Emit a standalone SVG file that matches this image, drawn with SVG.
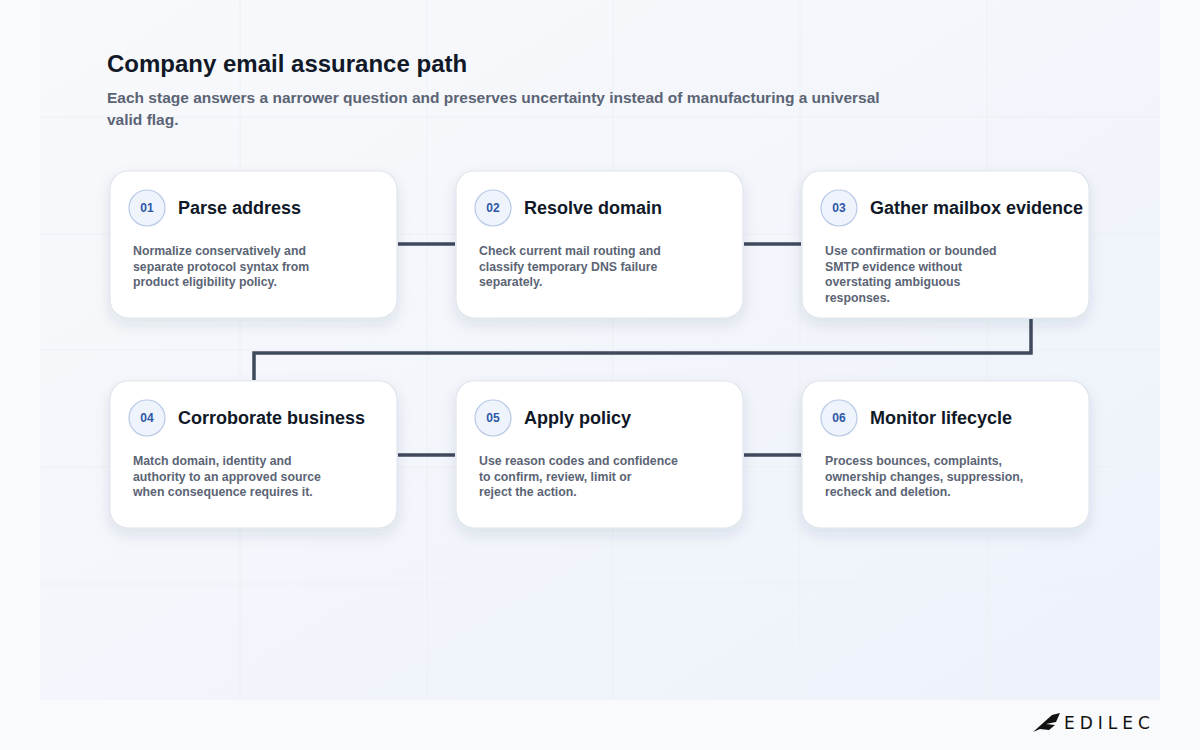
<svg xmlns="http://www.w3.org/2000/svg" width="1200" height="750" viewBox="0 0 1200 750">
<defs>
<linearGradient id="bg" x1="0" y1="0" x2="1" y2="1"><stop offset="0" stop-color="#f8f9fb"/><stop offset="1" stop-color="#edf2fb"/></linearGradient>
<filter id="sh" x="-20%" y="-20%" width="140%" height="150%"><feDropShadow dx="0" dy="6" stdDeviation="7" flood-color="#1e2a44" flood-opacity="0.10"/></filter>
<style>
.card{fill:#fff;stroke:#dfe4ec;stroke-width:1.2;filter:url(#sh)}
.num{fill:#eef3fc;stroke:#b9c9e6;stroke-width:1.2}
.nt{font-family:"Liberation Sans",Arial,sans-serif;font-size:12px;font-weight:bold;fill:#2e58a8;text-anchor:middle}
.tt{font-family:"Liberation Sans",Arial,sans-serif;font-size:18px;font-weight:bold;fill:#111827}
.bt{font-family:"Liberation Sans",Arial,sans-serif;font-size:12.3px;font-weight:bold;fill:#5b6474}
.ln{fill:none;stroke:#3f4a5c;stroke-width:3.5}
.grid{stroke:#edf0f4;stroke-width:1}
</style>
</defs>
<rect width="1200" height="750" fill="#f9fafb"/>
<rect x="40" y="0" width="1120" height="700" fill="url(#bg)"/>
<g class="grid">
<line x1="40" y1="117" x2="1160" y2="117"/><line x1="40" y1="234" x2="1160" y2="234"/><line x1="40" y1="350" x2="1160" y2="350"/><line x1="40" y1="467" x2="1160" y2="467"/><line x1="40" y1="584" x2="1160" y2="584"/>
<line x1="240" y1="0" x2="240" y2="700"/><line x1="427" y1="0" x2="427" y2="700"/><line x1="613" y1="0" x2="613" y2="700"/><line x1="800" y1="0" x2="800" y2="700"/><line x1="987" y1="0" x2="987" y2="700"/>
</g>
<text x="107" y="72" font-family="Liberation Sans,Arial,sans-serif" font-size="24" font-weight="bold" fill="#111827">Company email assurance path</text>
<text font-family="Liberation Sans,Arial,sans-serif" font-size="15.5" font-weight="bold" fill="#5b6474"><tspan x="107" y="103">Each stage answers a narrower question and preserves uncertainty instead of manufacturing a universal</tspan><tspan x="107" y="125">valid flag.</tspan></text>
<g id="connectors">
<line class="ln" x1="398" y1="244" x2="455" y2="244"/>
<line class="ln" x1="744" y1="244" x2="801" y2="244"/>
<path class="ln" d="M1031 319 V353 H254 V380"/>
<line class="ln" x1="398" y1="455" x2="455" y2="455"/>
<line class="ln" x1="744" y1="455" x2="801" y2="455"/>
</g>
<g id="n1"><rect class="card" x="110" y="171" width="287" height="147" rx="18"/><circle class="num" cx="147" cy="208" r="18"/><text class="nt" x="147" y="212">01</text><text class="tt" x="178" y="214">Parse address</text><text class="bt"><tspan x="133" y="255">Normalize conservatively and</tspan><tspan x="133" y="271">separate protocol syntax from</tspan><tspan x="133" y="286">product eligibility policy.</tspan></text></g>
<g id="n2"><rect class="card" x="456" y="171" width="287" height="147" rx="18"/><circle class="num" cx="493" cy="208" r="18"/><text class="nt" x="493" y="212">02</text><text class="tt" x="524" y="214">Resolve domain</text><text class="bt"><tspan x="479" y="255">Check current mail routing and</tspan><tspan x="479" y="271">classify temporary DNS failure</tspan><tspan x="479" y="286">separately.</tspan></text></g>
<g id="n3"><rect class="card" x="802" y="171" width="287" height="147" rx="18"/><circle class="num" cx="839" cy="208" r="18"/><text class="nt" x="839" y="212">03</text><text class="tt" x="870" y="214">Gather mailbox evidence</text><text class="bt"><tspan x="825" y="255">Use confirmation or bounded</tspan><tspan x="825" y="271">SMTP evidence without</tspan><tspan x="825" y="286">overstating ambiguous</tspan><tspan x="825" y="302">responses.</tspan></text></g>
<g id="n4"><rect class="card" x="110" y="381" width="287" height="147" rx="18"/><circle class="num" cx="147" cy="418" r="18"/><text class="nt" x="147" y="422">04</text><text class="tt" x="178" y="424">Corroborate business</text><text class="bt"><tspan x="133" y="465">Match domain, identity and</tspan><tspan x="133" y="481">authority to an approved source</tspan><tspan x="133" y="496">when consequence requires it.</tspan></text></g>
<g id="n5"><rect class="card" x="456" y="381" width="287" height="147" rx="18"/><circle class="num" cx="493" cy="418" r="18"/><text class="nt" x="493" y="422">05</text><text class="tt" x="524" y="424">Apply policy</text><text class="bt"><tspan x="479" y="465">Use reason codes and confidence</tspan><tspan x="479" y="481">to confirm, review, limit or</tspan><tspan x="479" y="496">reject the action.</tspan></text></g>
<g id="n6"><rect class="card" x="802" y="381" width="287" height="147" rx="18"/><circle class="num" cx="839" cy="418" r="18"/><text class="nt" x="839" y="422">06</text><text class="tt" x="870" y="424">Monitor lifecycle</text><text class="bt"><tspan x="825" y="465">Process bounces, complaints,</tspan><tspan x="825" y="481">ownership changes, suppression,</tspan><tspan x="825" y="496">recheck and deletion.</tspan></text></g>
<g id="logo">
<path d="M1033 732 L1052 715 L1060 713 L1056 722 L1046 724 L1055 725 L1049 730 L1040 729 Z" fill="#111"/>
<text x="1064" y="729" font-family="DejaVu Sans,sans-serif" font-size="17" letter-spacing="5" fill="#111">EDILEC</text>
</g>
</svg>
